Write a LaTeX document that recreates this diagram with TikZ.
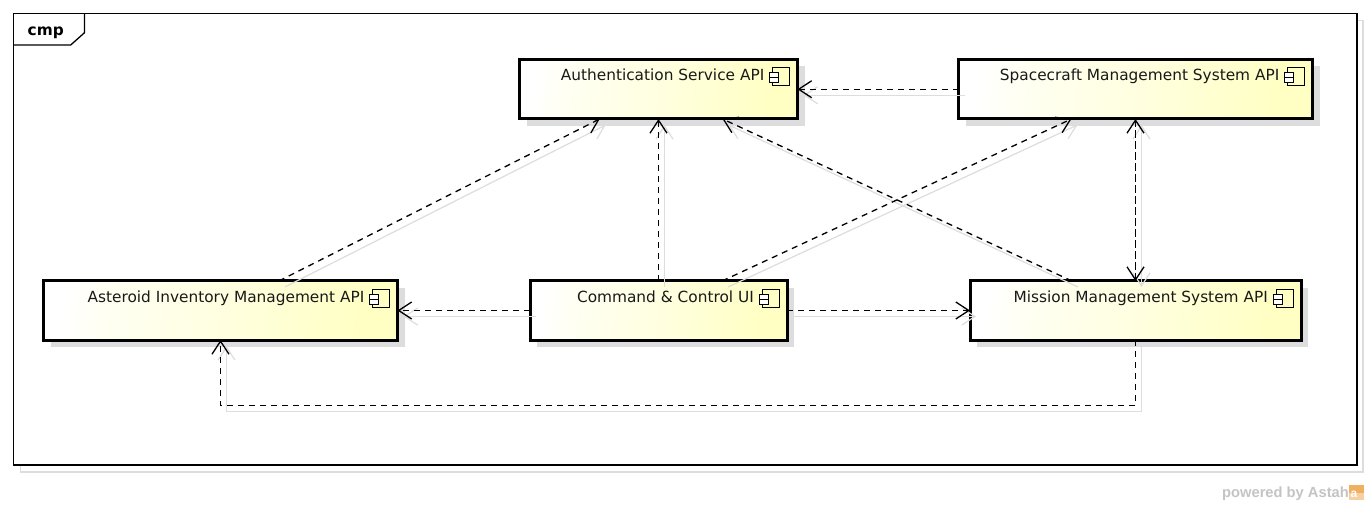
\documentclass[tikz,border=0pt]{standalone}
\usepackage{fontspec}
\setmainfont{DejaVu Sans}
\newfontfamily\wmfont{Liberation Sans}
\usetikzlibrary{arrows.meta,calc}
\definecolor{shadowgray}{HTML}{DDDDDD}
\definecolor{wmgray}{HTML}{C4C4C4}
\definecolor{logoorange}{HTML}{F0B060}
\pgfdeclarehorizontalshading{compshade}{100bp}{color(0bp)=(white); color(25bp)=(white); color(32bp)=(white!95!yellow); color(50bp)=(white!88!yellow); color(72bp)=(white!77!yellow); color(100bp)=(white!77!yellow)}
\tikzset{
  compbox/.style={draw=black,line width=3pt,outer sep=0pt,inner sep=0pt,shading=compshade,shading angle=-8},
  comptext/.style={anchor=base east,inner sep=0pt,font=\fontsize{15.35}{17}\selectfont,text=black!90},
  icon/.style={draw=black,line width=0.9pt,fill=none},
  dep/.style={draw=black,line width=1.3pt,dash pattern=on 6pt off 5pt,-{Straight Barb[length=13pt,width=17pt,line width=1.3pt]}},
  depshadow/.style={draw=shadowgray,line width=1.2pt,solid,-{Straight Barb[length=13pt,width=17pt,line width=1.2pt]},transform canvas={xshift=6pt,yshift=-6pt}},
  frameline/.style={draw=black,line width=1.3pt},
  frameshadow/.style={draw=shadowgray,line width=1.3pt},
}
% name, x1, y1, x2, y2, label
\newcommand{\compblock}[6]{%
  \fill[shadowgray] (#2+7,#3+7) rectangle (#4+7,#5+7);
  \node[compbox,minimum width={(#4-#2)*1pt},minimum height={(#5-#3)*1pt}] (#1) at ({(#2+#4)/2},{(#3+#5)/2}) {};
  \node[comptext] (#1txt) at (#4-33,#3+21) {#6};
  \draw[icon,fill=none] (#4-25,#3+8) rectangle (#4-8,#3+26);
  \draw[icon,fill=white] (#4-28,#3+13) rectangle (#4-19,#3+18);
  \draw[icon,fill=white] (#4-28,#3+18) rectangle (#4-19,#3+23);
}
\begin{document}
\begin{tikzpicture}[x=1pt,y=-1pt]
\useasboundingbox (0,0) rectangle (1369,505);
\fill[white] (0,0) rectangle (1369,505);
% frame
\draw[frameshadow] (20.5,20.5) rectangle (1363,472);
\draw[frameline,fill=white] (13.5,13.5) rectangle (1357,465);
\draw[frameline] (84.5,13.5) -- (84.5,32.7) -- (70.7,45) -- (13.5,45);
\node[anchor=base west,inner sep=0pt,font=\fontsize{15.35}{17}\selectfont\bfseries] (cmplabel) at (27.5,36) {cmp};
% components
\compblock{auth}{519.5}{59.5}{797.5}{119}{Authentication Service API}
\compblock{craft}{958.5}{59.5}{1312.5}{119}{Spacecraft Management System API}
\compblock{ast}{43.5}{281}{397.5}{340}{Asteroid Inventory Management API}
\compblock{cmd}{530}{281}{787}{340}{Command \& Control UI}
\compblock{mis}{970}{281}{1301}{340}{Mission Management System API}
% connector shadows
\draw[depshadow] (craft) -- (auth);
\draw[depshadow] (ast) -- (auth);
\draw[depshadow] (cmd) -- (auth);
\draw[depshadow] (mis) -- (auth);
\draw[depshadow] (cmd) -- (craft);
\draw[depshadow] (mis) -- (craft);
\draw[depshadow] (craft) -- (mis);
\draw[depshadow] (cmd) -- (ast);
\draw[depshadow] (cmd) -- (mis);
\draw[depshadow] (mis.south) -- ++(0,65.5) -| (ast.south);
% connectors
\draw[dep] (craft) -- (auth);
\draw[dep] (ast) -- (auth);
\draw[dep] (cmd) -- (auth);
\draw[dep] (mis) -- (auth);
\draw[dep] (cmd) -- (craft);
\draw[dep] (mis) -- (craft);
\draw[dep] (craft) -- (mis);
\draw[dep] (cmd) -- (ast);
\draw[dep] (cmd) -- (mis);
\draw[dep] (mis.south) -- ++(0,65.5) -| (ast.south);
% watermark
\node[anchor=base east,inner sep=0pt,text=wmgray,font=\wmfont\fontsize{14.7}{16}\selectfont\bfseries] (wm) at (1349,497) {powered by Astah};
\fill[logoorange] (1349,485) rectangle (1364,500);
\fill[logoorange!60] (1349,493) rectangle (1364,500);
\node[inner sep=0pt,text=white,font=\wmfont\fontsize{12}{12}\selectfont\bfseries] (logo) at (1354,494.5) {a};
\end{tikzpicture}
\end{document}
